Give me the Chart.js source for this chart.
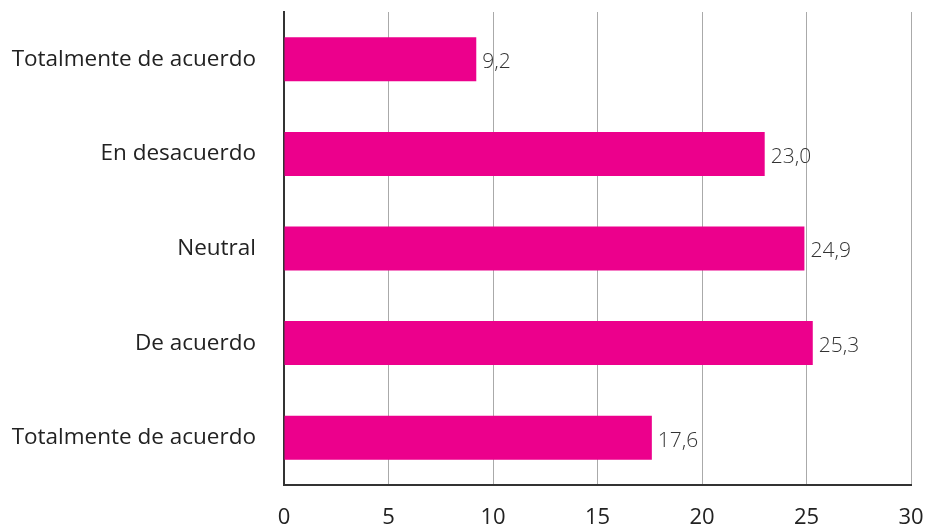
<!DOCTYPE html>
<html>
<head>
<meta charset="utf-8">
<script src="https://cdn.jsdelivr.net/npm/chart.js@4"></script>
<style>
  html, body { margin: 0; padding: 0; background: #fff; }
  #wrap { width: 926px; height: 528px; }
</style>
</head>
<body>
<div id="wrap"><canvas id="myChart" width="926" height="528"></canvas></div>
<script>
const categories = [
    "Totalmente de acuerdo",
    "En desacuerdo",
    "Neutral",
    "De acuerdo",
    "Totalmente de acuerdo"
];
const values = [9.2, 23.0, 24.9, 25.3, 17.6];
const xTicks = [0, 5, 10, 15, 20, 25, 30];

const fontFamily = "'Open Sans', 'Noto Sans', sans-serif";

// writes the value after each bar, with a decimal comma
const valueLabels = {
    id: "valueLabels",
    afterDatasetsDraw(chart) {
        const ctx = chart.ctx;
        const meta = chart.getDatasetMeta(0);
        ctx.save();
        ctx.font = "300 21px " + fontFamily;
        ctx.fillStyle = "#333333";
        ctx.textAlign = "left";
        ctx.textBaseline = "middle";
        meta.data.forEach((bar, i) => {
            const txt = values[i].toFixed(1).replace(".", ",");
            ctx.fillText(txt, bar.x + 6, bar.y + 3);
        });
        ctx.restore();
    }
};

const ctx = document.getElementById("myChart").getContext("2d");

const myChart = new Chart(ctx, {
    type: "bar",
    data: {
        labels: categories,
        datasets: [
            {
                data: values,
                backgroundColor: "#EC008C",
                borderWidth: 0,
                barPercentage: 0.93,
                categoryPercentage: 0.5
            }
        ]
    },
    options: {
        indexAxis: "y",
        responsive: false,
        animation: false,
        layout: {
            padding: { top: 12, right: 15, left: 0, bottom: 0 }
        },
        scales: {
            x: {
                min: 0,
                max: 30,
                afterBuildTicks: scale => {
                    scale.ticks = xTicks.map(v => ({ value: v }));
                },
                afterFit: scale => {
                    scale.height = 43;
                    scale.paddingLeft = 0;
                    scale.paddingRight = 0;
                },
                grid: {
                    color: "#AAAAAA",
                    lineWidth: 1,
                    drawTicks: false
                },
                border: { color: "#333333", width: 2 },
                ticks: {
                    color: "#222222",
                    padding: 20,
                    font: { family: fontFamily, size: 22 }
                }
            },
            y: {
                afterFit: scale => {
                    scale.width = 284;
                    scale.paddingTop = 0;
                    scale.paddingBottom = 0;
                },
                grid: { display: false, drawTicks: false },
                border: { color: "#333333", width: 2 },
                ticks: {
                    color: "#222222",
                    padding: 28,
                    font: { family: fontFamily, size: 22.5 }
                }
            }
        },
        plugins: {
            legend: { display: false },
            tooltip: { enabled: false }
        }
    },
    plugins: [valueLabels]
});
</script>
</body>
</html>
